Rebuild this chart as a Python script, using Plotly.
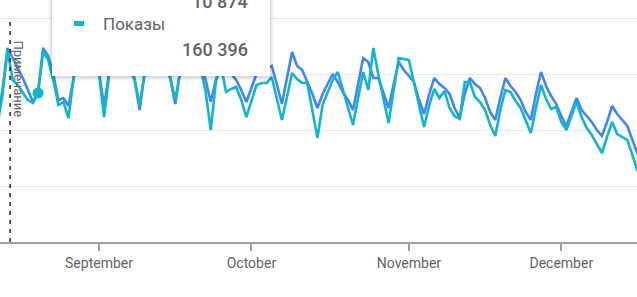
import pandas as pd
import plotly.graph_objects as go

# Daily data from 2023-08-12 to 2023-12-16
start_date = "2023-08-12"
clicks = [62, 76, 97, 92, 87, 82, 76, 70, 75, 97, 93, 84, 71, 72, 68, 82, 96, 94, 91, 88,
          85, 68, 85, 95, 93, 91, 87, 81, 66, 85, 95, 92, 90, 87, 82, 69, 86, 95, 93, 91,
          89, 81, 70, 81, 90, 86, 84, 81, 76, 70, 77, 84, 86, 87, 88, 79, 69, 82, 95, 88,
          86, 80, 74, 67, 74, 79, 84, 80, 75, 71, 66, 79, 92, 90, 82, 82, 75, 67, 79, 90,
          86, 83, 80, 71, 64, 74, 82, 79, 77, 74, 67, 62, 74, 82, 79, 77, 72, 65, 61, 72,
          82, 78, 75, 71, 65, 61, 74, 85, 78, 73, 69, 63, 58, 65, 72, 66, 63, 60, 56, 53,
          60, 68, 64, 61, 58, 51, 44]
impressions = [936, 1176, 1536, 1296, 1256, 1200, 1136, 1112, 1192, 1520, 1456, 1296, 1096, 1120, 992, 1312, 1520, 1488, 1440, 1392,
               1344, 1000, 1336, 1504, 1472, 1440, 1376, 1312, 1088, 1360, 1504, 1456, 1424, 1376, 1328, 1136, 1360, 1496, 1472, 1440,
               1392, 1200, 896, 1280, 1416, 1200, 1224, 1240, 1136, 1000, 1136, 1256, 1272, 1272, 1320, 1160, 976, 1160, 1352, 1304,
               1272, 1272, 1056, 832, 1096, 1200, 1296, 1360, 1216, 1072, 936, 1152, 1360, 1216, 1552, 1336, 1136, 952, 1216, 1472,
               1464, 1456, 1272, 1096, 920, 1096, 1224, 1152, 1208, 1072, 1008, 984, 1280, 1280, 1160, 1120, 1056, 936, 848, 1056,
               1216, 1200, 1128, 1072, 976, 872, 1072, 1256, 1144, 1064, 1080, 960, 896, 1016, 1120, 1000, 912, 856, 784, 712,
               840, 960, 864, 840, 816, 696, 568]
month_ticks = ["2023-09-01", "2023-10-01", "2023-11-01", "2023-12-01"]
month_labels = ["September", "October", "November", "December"]
note_date = "2023-08-14 12:00"
note_text = "Примечание"
marker_date = "2023-08-20"
tooltip_metric = "Показы"
tooltip_total_top = "10 874"
tooltip_total = "160 396"

dates = pd.date_range(start_date, periods=len(clicks), freq="D")
marker_idx = list(dates).index(pd.Timestamp(marker_date))

BLUE = "#4285f4"
TEAL = "#12b5cb"
GREY = "#5f6368"

W, H = 637, 297
PLOT_H = 242

def px(xp):
    return xp / W

def py(yp):
    return (PLOT_H - yp) / PLOT_H

fig = go.Figure()
fig.add_trace(go.Scatter(x=dates, y=impressions, mode="lines", yaxis="y2",
                         line=dict(color=TEAL, width=2.6), name="Показы"))
fig.add_trace(go.Scatter(x=dates, y=clicks, mode="lines",
                         line=dict(color=BLUE, width=2.6), name="Клики"))
fig.add_trace(go.Scatter(x=[dates[marker_idx]], y=[impressions[marker_idx]], mode="markers",
                         yaxis="y2", marker=dict(color=TEAL, size=11), showlegend=False))

shapes = []
# dashed note line
shapes.append(dict(type="line", xref="x", yref="y", x0=note_date, x1=note_date,
                   y0=0, y1=112, line=dict(color="#222222", width=1.5, dash="4px,5px"),
                   layer="above"))
# tooltip shadow
for i, a in enumerate([0.05, 0.04, 0.03, 0.02]):
    s = i + 1
    shapes.append(dict(type="rect", xref="paper", yref="paper",
                       x0=px(52 - s), x1=px(270 + s), y0=py(76 + s + 1), y1=py(-20),
                       line=dict(width=0), fillcolor=f"rgba(0,0,0,{a})", layer="above"))
shapes.append(dict(type="rect", xref="paper", yref="paper",
                   x0=px(52), x1=px(270), y0=py(76), y1=py(-20),
                   line=dict(width=0), fillcolor="white", layer="above"))
# legend dash in tooltip
shapes.append(dict(type="line", xref="paper", yref="paper",
                   x0=px(74), x1=px(84), y0=py(23.5), y1=py(23.5),
                   line=dict(color=TEAL, width=5), layer="above"))

annotations = [
    dict(text=note_text, xref="paper", yref="paper", x=px(18.5), y=py(79),
         xanchor="center", yanchor="middle",
         textangle=90, showarrow=False, font=dict(family="Roboto", size=13, color=GREY)),
    dict(text=tooltip_total_top, xref="paper", yref="paper", x=px(250), y=py(2),
         xanchor="right", yanchor="middle", showarrow=False,
         font=dict(family="Roboto", size=18, color=GREY, weight=500)),
    dict(text=tooltip_metric, xref="paper", yref="paper", x=px(101), y=py(24),
         xanchor="left", yanchor="middle", showarrow=False,
         font=dict(family="Roboto", size=17, color=GREY)),
    dict(text=tooltip_total, xref="paper", yref="paper", x=px(250), y=py(49),
         xanchor="right", yanchor="middle", showarrow=False,
         font=dict(family="Roboto", size=18, color=GREY, weight=500)),
]

fig.update_layout(
    width=W, height=H,
    margin=dict(l=0, r=0, t=0, b=H - PLOT_H),
    paper_bgcolor="white", plot_bgcolor="white",
    showlegend=False,
    shapes=shapes,
    annotations=annotations,
    xaxis=dict(range=["2023-08-12 12:14", "2023-12-15 21:36"], type="date",
               tickvals=month_ticks, ticktext=month_labels,
               showgrid=False, showline=True, linecolor="#a0a0a0", linewidth=1.5,
               ticks="outside", ticklen=7, tickcolor="#a0a0a0", tickwidth=1.5,
               tickfont=dict(family="Roboto", size=14, color=GREY), zeroline=False),
    yaxis=dict(range=[0, 121], dtick=28, showticklabels=False, showgrid=True,
               gridcolor="#e8e8e8", gridwidth=1, zeroline=False, showline=False),
    yaxis2=dict(range=[0, 1936], dtick=448, overlaying="y", side="right",
                showticklabels=False, showgrid=False, zeroline=False),
)

fig.write_html("out.html")
